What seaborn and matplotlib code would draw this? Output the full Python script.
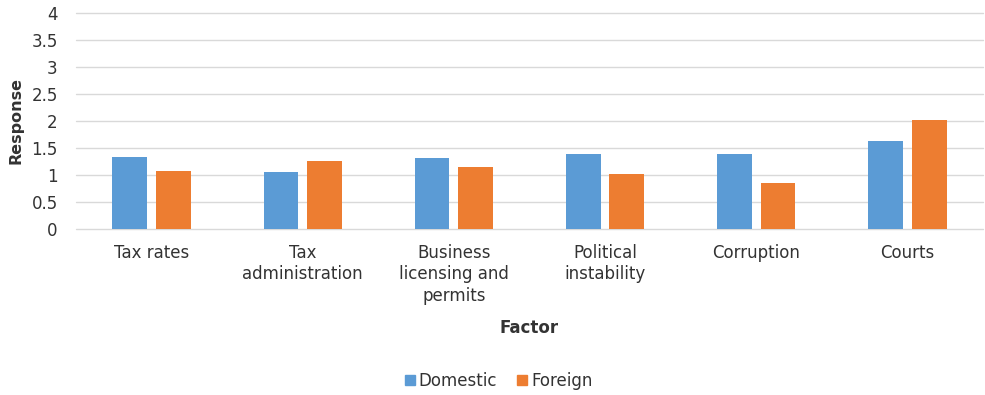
import matplotlib
matplotlib.use("Agg")
import matplotlib.pyplot as plt
import seaborn as sns
import pandas as pd

factors = ["Tax rates", "Tax\nadministration", "Business\nlicensing and\npermits",
           "Political\ninstability", "Corruption", "Courts"]
domestic = [1.32, 1.04, 1.31, 1.39, 1.38, 1.62]
foreign = [1.06, 1.26, 1.135, 1.02, 0.84, 2.01]
series = ["Domestic", "Foreign"]
colors = ["#5B9BD5", "#ED7D31"]
yticks = [0, 0.5, 1, 1.5, 2, 2.5, 3, 3.5, 4]
ytick_labels = ["0", "0.5", "1", "1.5", "2", "2.5", "3", "3.5", "4"]

df = pd.DataFrame({
    "Factor": factors * 2,
    "Response": domestic + foreign,
    "Series": [series[0]] * len(factors) + [series[1]] * len(factors),
})

sns.set_theme(style="white")
plt.rcParams["font.family"] = ["DejaVu Sans"]
text_color = "#333333"
fs = 12

fig = plt.figure(figsize=(9.85, 3.95), dpi=100)
ax = fig.add_axes([0.077, 0.4215, 0.921, 0.5455])

sns.barplot(data=df, x="Factor", y="Response", hue="Series", order=factors,
            hue_order=series, palette=colors, width=0.575, gap=0.2,
            saturation=1, ax=ax, legend=False, linewidth=0)

ax.set_ylim(0, 4)
ax.set_xlim(-0.5, len(factors) - 0.5)
ax.set_yticks(yticks)
ax.set_yticklabels(ytick_labels)
ax.yaxis.grid(True, color="#d9d9d9", linewidth=1.0)
ax.set_axisbelow(True)
for gl in ax.get_ygridlines():
    gl.set_clip_on(False)
for s in ax.spines.values():
    s.set_visible(False)
ax.tick_params(axis="both", length=0, labelsize=fs, colors=text_color)
ax.tick_params(axis="x", pad=11)
ax.tick_params(axis="y", pad=13)
for lbl in ax.get_xticklabels():
    lbl.set_linespacing(1.25)

ax.set_xlabel("Factor", fontsize=fs, fontweight="bold", color=text_color, labelpad=10)
ax.set_ylabel("Response", fontsize=11.5, fontweight="bold", color=text_color, labelpad=6)

handles = [plt.Line2D([], [], marker="s", linestyle="", markersize=7.5,
                      markerfacecolor=c, markeredgecolor=c) for c in colors]
fig.legend(handles, series, loc="center", bbox_to_anchor=(0.5046, 0.035), ncol=2,
           frameon=False, fontsize=fs, handletextpad=0.05, columnspacing=1.0,
           labelcolor=text_color, handlelength=1.0)

fig.savefig("out.png", dpi=100)
